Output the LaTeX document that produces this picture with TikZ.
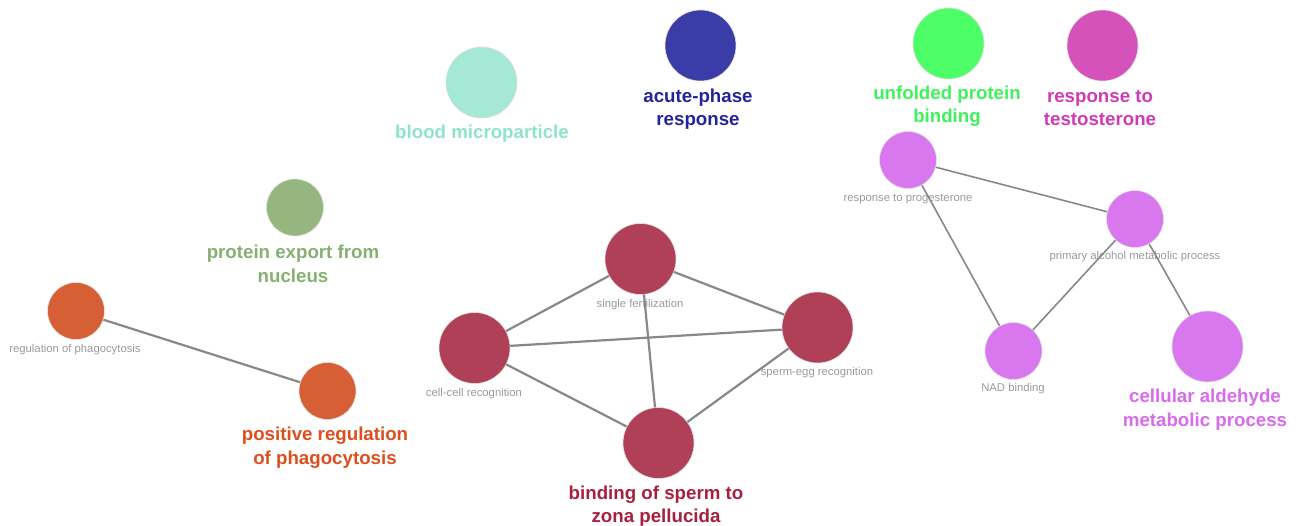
\documentclass[tikz,border=0pt]{standalone}
\usepackage{fontspec}
\setmainfont{Liberation Sans}
\definecolor{corange}{HTML}{D65F35}
\definecolor{torange}{HTML}{DD4E1C}
\definecolor{ccrim}{HTML}{B04058}
\definecolor{tcrim}{HTML}{A8203F}
\definecolor{cviol}{HTML}{D877EE}
\definecolor{tviol}{HTML}{D86BEB}
\definecolor{cgreen}{HTML}{4DFF66}
\definecolor{tgreen}{HTML}{3EF25A}
\definecolor{cmag}{HTML}{D452B9}
\definecolor{tmag}{HTML}{D03AB5}
\definecolor{cblue}{HTML}{3A3CA8}
\definecolor{tblue}{HTML}{22259A}
\definecolor{cteal}{HTML}{A5E8D6}
\definecolor{tteal}{HTML}{8FE3CC}
\definecolor{csage}{HTML}{95B67F}
\definecolor{tsage}{HTML}{86B070}
\definecolor{edgegray}{HTML}{888888}
\definecolor{smallgray}{HTML}{9A9A9A}
\begin{document}
\begin{tikzpicture}[x=1pt,y=-1pt,
  term/.style={circle,inner sep=0pt,draw=black!12,line width=0.6pt},
  big/.style={circle,term,minimum size=71pt},
  mid/.style={circle,term,minimum size=57pt},
  biglabel/.style={font=\fontsize{18.7}{23.5}\selectfont\bfseries,align=center,inner sep=0pt},
  smalllabel/.style={font=\fontsize{11.3}{13}\selectfont,text=smallgray,inner sep=0pt},
  link/.style={draw=edgegray,line width=2.2pt},
  thinlink/.style={draw=edgegray,line width=1.6pt}]
\useasboundingbox (0,0) rectangle (1298,526);
% circles
\node[mid,fill=corange] (rp) at (76,311) {};
\node[mid,fill=corange] (prp) at (327.5,391) {};
\node[mid,fill=csage] (pe) at (295,207.5) {};
\node[big,fill=cteal] (bm) at (481.5,82.5) {};
\node[big,fill=cblue] (ap) at (700.5,45.5) {};
\node[big,fill=cgreen] (up) at (948.5,43.5) {};
\node[big,fill=cmag] (rt) at (1102.5,45.5) {};
\node[big,fill=ccrim] (sf) at (640.5,259) {};
\node[big,fill=ccrim] (cc) at (474.5,348) {};
\node[big,fill=ccrim] (se) at (817.5,327.5) {};
\node[big,fill=ccrim] (bs) at (658.5,443) {};
\node[mid,fill=cviol] (rpg) at (908,160) {};
\node[mid,fill=cviol] (pa) at (1135,219) {};
\node[mid,fill=cviol] (nad) at (1013.5,351) {};
\node[big,fill=cviol] (ca) at (1207.5,346.5) {};
% small labels
\node[smalllabel] (lrp) at (75,350) {regulation of phagocytosis};
\node[smalllabel] (lsf) at (640,305) {single fertilization};
\node[smalllabel] (lcc) at (474,394) {cell-cell recognition};
\node[smalllabel] (lse) at (817,373) {sperm-egg recognition};
\node[smalllabel] (lrpg) at (908,199) {response to progesterone};
\node[smalllabel] (lpa) at (1135,257) {primary alcohol metabolic process};
\node[smalllabel] (lnad) at (1013,389) {NAD binding};
% big labels
\node[biglabel,text=torange] (lprp) at (325,447.5) {positive regulation\\of phagocytosis};
\node[biglabel,text=tsage] (lpe) at (293,264) {protein export from\\nucleus};
\node[biglabel,text=tteal] (lbm) at (482,133.5) {blood microparticle};
\node[biglabel,text=tblue] (lap) at (698,109) {acute-phase\\response};
\node[biglabel,text=tgreen] (lup) at (947,106) {unfolded protein\\binding};
\node[biglabel,text=tmag] (lrt) at (1100,108) {response to\\testosterone};
\node[biglabel,text=tcrim] (lbs) at (656,506) {binding of sperm to\\zona pellucida};
\node[biglabel,text=tviol] (lca) at (1205,409.5) {cellular aldehyde\\metabolic process};
% edges
\draw[link] (rp) -- (prp);
\draw[link] (sf) -- (cc);
\draw[link] (sf) -- (se);
\draw[link] (sf) -- (bs);
\draw[link] (cc) -- (se);
\draw[link] (cc) -- (bs);
\draw[link] (se) -- (bs);
\draw[thinlink] (rpg) -- (pa);
\draw[thinlink] (rpg) -- (nad);
\draw[thinlink] (pa) -- (nad);
\draw[thinlink] (pa) -- (ca);
\end{tikzpicture}
\end{document}
